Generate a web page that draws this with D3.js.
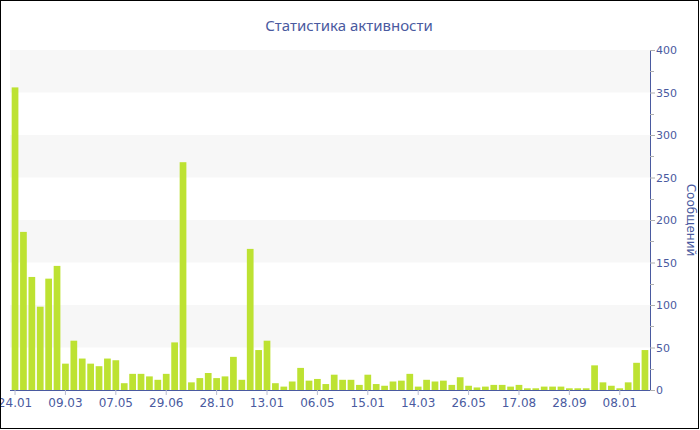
<!DOCTYPE html>
<html>
<head>
<meta charset="utf-8">
<script src="https://cdn.jsdelivr.net/npm/d3@7"></script>
<style>
  html, body { margin: 0; padding: 0; background: #fff; }
  svg { display: block; }
</style>
</head>
<body>
<svg id="chart" width="700" height="430"></svg>
<script>
// ---- data ----
const chartTitle = "Статистика активности";
const yAxisTitle = "Сообщений";
const tickLabels = ["24.01","09.03","07.05","29.06","28.10","13.01","06.05","15.01","14.03","26.05","17.08","28.09","08.01"];
const tickEvery = 6;
const messages = [
  356, 186, 133, 98, 131, 146, 31, 58, 37, 31, 28, 37,
  35, 8, 19, 19, 16, 12, 19, 56, 268, 9, 14, 20,
  14, 16, 39, 12, 166, 47, 58, 8, 4, 10, 26, 11,
  13, 7, 18, 12, 12, 6, 18, 7, 5, 10, 11, 19,
  4, 12, 10, 11, 6, 15, 5, 3, 4, 6, 6, 4,
  6, 2, 2, 4, 4, 4, 2, 2, 2, 29, 9, 5,
  2, 9, 32, 47
];
const yTicks = [0, 50, 100, 150, 200, 250, 300, 350, 400];
const yMinorTicks = [25, 75, 125, 175, 225, 275, 325, 375];

// ---- layout ----
const W = 700, H = 430;
const plot = { left: 10, right: 650, top: 50, bottom: 390 };
const blue = "#4a5aa0";
const barColor = "#bde232";
const font = "'DejaVu Sans', Verdana, sans-serif";

const svg = d3.select("#chart");

const idx = messages.map((d, i) => i);
const x = d3.scaleBand().domain(idx).range([plot.left, plot.right]).paddingInner(0.2).paddingOuter(0.2);
const y = d3.scaleLinear().domain([0, 400]).range([plot.bottom, plot.top]);

// alternate bands
const bandPairs = d3.range(0, yTicks.length - 1).filter(i => i % 2 === 1);
svg.append("g").selectAll("rect").data(bandPairs).join("rect")
  .attr("x", plot.left)
  .attr("width", plot.right - plot.left)
  .attr("y", i => y(yTicks[i + 1]))
  .attr("height", i => y(yTicks[i]) - y(yTicks[i + 1]))
  .attr("fill", "#f7f7f7");

// bars
svg.append("g").selectAll("rect").data(messages).join("rect")
  .attr("x", (d, i) => x(i))
  .attr("width", x.bandwidth())
  .attr("y", d => y(d))
  .attr("height", d => y(0) - y(d))
  .attr("fill", barColor);

// x axis
const xAxis = d3.axisBottom(x)
  .tickValues(idx.filter(i => i % tickEvery === 0))
  .tickFormat(i => tickLabels[i / tickEvery])
  .tickSize(5).tickSizeOuter(0).tickPadding(3);
const gx = svg.append("g").attr("transform", `translate(0,${plot.bottom})`).call(xAxis);
gx.select(".domain").attr("stroke", blue).attr("d", `M${plot.left},0.5H${plot.right}`);
gx.selectAll(".tick line").attr("stroke", "#b8bcd0");
gx.selectAll(".tick text").attr("fill", blue).style("font-family", font).style("font-size", "12px");

// y axis (right)
const yAxis = d3.axisRight(y).tickValues(yTicks).tickSize(5).tickSizeOuter(0).tickPadding(1);
const gy = svg.append("g").attr("transform", `translate(${plot.right},0)`).call(yAxis);
gy.select(".domain").attr("stroke", blue);
gy.selectAll(".tick line").attr("stroke", "#b0b0b0");
gy.selectAll(".tick text").attr("fill", blue).style("font-family", font).style("font-size", "11px");
// minor ticks
svg.append("g").selectAll("line").data(yMinorTicks).join("line")
  .attr("x1", plot.right).attr("x2", plot.right + 4)
  .attr("y1", d => Math.round(y(d)) + 0.5).attr("y2", d => Math.round(y(d)) + 0.5)
  .attr("stroke", "#b0b0b0");

// y axis title
svg.append("text")
  .attr("transform", `translate(687,${(plot.top + plot.bottom) / 2}) rotate(90)`)
  .attr("text-anchor", "middle")
  .attr("fill", blue)
  .style("font-family", font).style("font-size", "12px")
  .text(yAxisTitle);

// title
svg.append("text")
  .attr("x", 349).attr("y", 31)
  .attr("text-anchor", "middle")
  .attr("fill", blue)
  .style("font-family", "'Noto Sans', sans-serif").style("font-size", "15px")
  .text(chartTitle);

// frame
svg.append("rect").attr("x", 0.5).attr("y", 0.5).attr("width", 698).attr("height", 428)
  .attr("fill", "none").attr("stroke", "#000");
</script>
</body>
</html>
